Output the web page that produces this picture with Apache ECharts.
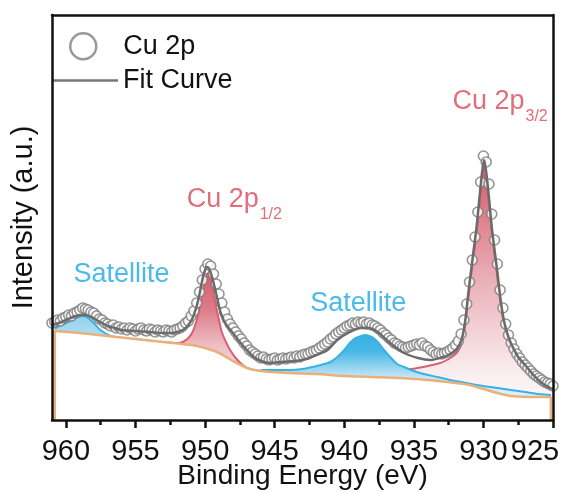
<!DOCTYPE html>
<html>
  <head>
    <meta charset="utf-8" />
    <title>Cu 2p XPS</title>
    <script src="https://cdn.jsdelivr.net/npm/echarts@6.0.0/dist/echarts.min.js"></script>
  </head>
  <body style="margin: 0; padding: 0; border: 0">
    <div id="main" style="width: 563px; height: 493px"></div>
    <script type="text/javascript">
      // measured points: 0.2 eV step starting at 961 eV
      var rawStart = 961;
      var rawStep = 0.2;
      var rawIntensity = [
        97, 98, 100, 99, 102, 103, 105, 104, 107, 108,
        110, 112, 111, 110, 108, 107, 104, 101, 100, 97,
        96, 94, 95, 92, 93, 91, 92, 90, 92, 91,
        89, 91, 92, 90, 89, 91, 90, 88, 90, 89,
        88, 90, 89, 88, 90, 91, 92, 94, 97, 99,
        104, 109, 117, 128, 140, 151, 156, 154, 146, 136,
        126, 117, 108, 101, 96, 92, 88, 84, 81, 77,
        74, 70, 68, 66, 64, 62, 63, 61, 60, 61,
        62, 60, 61, 62, 61, 62, 63, 62, 64, 63,
        65, 66, 66, 68, 69, 70, 72, 74, 76, 78,
        81, 83, 86, 88, 90, 92, 94, 95, 97, 96,
        98, 97, 98, 96, 97, 95, 94, 92, 90, 87,
        85, 82, 80, 77, 76, 74, 73, 72, 73, 74,
        75, 76, 75, 77, 74, 73, 70, 68, 66, 67,
        66, 67, 68, 70, 72, 75, 79, 86, 100, 116,
        138, 160, 183, 208, 238, 264, 258, 236, 206, 180,
        156, 130, 112, 96, 85, 77, 71, 66, 62, 58,
        55, 52, 49, 46, 44, 42, 40, 38, 37, 36,
        34
      ];

      var fitEnergy = [961, 960.5, 960, 959.5, 959, 958.6, 958.2, 957.8, 957.4, 957, 956.5, 956, 955, 954, 953, 952.4, 952, 951.6, 951.2, 950.9, 950.6, 950.4, 950.2, 950, 949.85, 949.7, 949.5, 949.3, 949.1, 948.9, 948.6, 948.3, 948, 947.5, 947, 946.5, 946, 945.3, 944.5, 943, 942, 941.2, 940.5, 939.6, 938.8, 938.3, 937.6, 936.7, 935.7, 934.7, 933.8, 932.9, 932.4, 932, 931.7, 931.5, 931.3, 931.1, 930.9, 930.7, 930.5, 930.3, 930.1, 929.95, 929.8, 929.6, 929.4, 929.2, 929, 928.8, 928.6, 928.4, 928.2, 928, 927.5, 927, 926.4, 925.8, 925.2, 925];
      var fitValue = [95, 97, 100, 103, 105, 105, 103, 100, 97, 94, 92, 90, 89, 88, 87, 87, 88, 90, 95, 102, 114, 126, 140, 150, 153, 151, 143, 132, 120, 108, 98, 92, 87, 78, 70, 63, 59, 57, 58, 60, 65, 70, 80, 88, 92, 92, 88, 77, 67, 62, 60, 63, 66, 70, 76, 84, 100, 125, 148, 170, 192, 220, 247, 260, 248, 222, 193, 170, 148, 124, 105, 92, 83, 76, 63, 55, 45, 37, 32, 31];

      var p32Energy = [940, 938, 936.5, 935.2, 934, 933.1, 932.5, 932, 931.7, 931.5, 931.3, 931.1, 930.9, 930.7, 930.5, 930.3, 930.1, 929.95, 929.8, 929.6, 929.4, 929.2, 929, 928.8, 928.6, 928.4, 928.2, 928, 927.5, 927, 926.4, 925.8, 925.15];
      var p32Value = [47, 48, 50, 51, 54, 57, 61, 66, 72, 80, 96, 120, 143, 165, 187, 214, 241, 254, 242, 216, 188, 165, 143, 120, 102, 89, 80, 73, 60, 52, 42, 35, 30];

      var p12Energy = [953, 952, 951.6, 951.2, 950.9, 950.6, 950.4, 950.2, 950, 949.8, 949.6, 949.4, 949.2, 949, 948.8, 948.5, 948.2, 947.8, 947.3, 946.8, 946, 945];
      var p12Value = [78, 77, 78, 82, 88, 100, 112, 126, 140, 147, 141, 128, 113, 100, 88, 78, 70, 62, 55, 51, 49, 48];

      var sat1Energy = [960.8, 960.5, 960, 959.5, 959.1, 958.8, 958.4, 958, 957.6, 957.2, 956.8, 956.3, 955.5, 954.5];
      var sat1Value = [91, 94, 97, 100, 103, 104, 102, 97, 91, 87, 84, 82, 81, 80];

      var sat2Energy = [946, 945.3, 944, 943, 941.7, 941, 940.5, 940, 939.6, 939.2, 938.8, 938.5, 938.2, 937.9, 937.6, 937.2, 936.7, 936.2, 935.7, 935.2, 934.3, 933.3, 932.4, 931.6, 930.5, 929.5, 928, 927, 926, 925.15];
      var sat2Value = [50, 50, 50, 51, 55, 58, 63, 70, 77, 82, 84, 85, 84, 82, 78, 71, 63, 56, 53, 50, 46, 43, 40, 38, 35, 33, 30, 28, 26, 25];

      var bgEnergy = [960.8, 960.8, 959, 957, 955, 953, 951, 950, 949, 948, 947, 946, 944, 942, 940, 938, 936, 934, 932, 931, 930, 929, 928, 926, 925.15, 925.15];
      var bgValue = [0, 89, 87, 84, 81, 78, 75, 72, 67, 59, 52, 49, 47, 46, 44, 43, 42, 40, 37, 35, 31, 27, 24, 23, 23, 0];

      var majorTicks = [925, 930, 935, 940, 945, 950, 955, 960];
      var minorTicks = [927.5, 932.5, 937.5, 942.5, 947.5, 952.5, 957.5];

      function pairs(xs, ys) {
        return xs.map(function (x, i) { return [x, ys[i]]; });
      }
      var rawData = rawIntensity.map(function (v, i) {
        return [+(rawStart - i * rawStep).toFixed(1), v];
      });

      var FONT = "Liberation Sans, Arial, sans-serif";
      var RED = "#D9606E";
      var BLUE = "#38B2E4";
      var RED_TXT = "#E06F7B";
      var BLUE_TXT = "#4ABAE8";

      function grad(stops) {
        return {
          type: "linear", x: 0, y: 0, x2: 0, y2: 1,
          colorStops: stops.map(function (s) { return { offset: s[0], color: s[1] }; }),
        };
      }
      function peakLabel(main, sub, color) {
        return {
          show: true,
          position: "inside",
          formatter: sub ? "{a|" + main + "}{b|" + sub + "}" : "{a|" + main + "}",
          rich: {
            a: { fontFamily: FONT, fontSize: 27, color: color, lineHeight: 30, verticalAlign: "top" },
            b: { fontFamily: FONT, fontSize: 16, color: color, lineHeight: 16, verticalAlign: "top", padding: [21, 0, 0, 1] },
          },
        };
      }
      function labelMark(coord, label) {
        return {
          symbol: "circle",
          symbolSize: 1,
          itemStyle: { color: "transparent" },
          silent: true,
          data: [{ coord: coord, label: label }],
        };
      }

      var myChart = echarts.init(document.getElementById("main"), null, { renderer: "canvas" });

      myChart.setOption({
        animation: false,
        grid: { left: 52, right: 10, top: 15, bottom: 73, outerBoundsMode: "none" },
        legend: [
          {
            data: ["Cu 2p"],
            left: 64,
            top: 27,
            icon: "circle",
            itemWidth: 70,
            itemHeight: 26,
            selectedMode: false,
            itemStyle: { color: "#fff", borderColor: "#808080", borderWidth: 2.5 },
            textStyle: { fontFamily: FONT, fontSize: 27, color: "#111" },
          },
          {
            data: ["Fit Curve"],
            left: 47,
            top: 62,
            icon: "rect",
            itemWidth: 66,
            itemHeight: 2.5,
            selectedMode: false,
            itemStyle: { color: "#777" },
            textStyle: { fontFamily: FONT, fontSize: 27, color: "#111", padding: [0, 0, 9, 0] },
          },
        ],
        xAxis: [
          {
            type: "value",
            min: 925,
            max: 961,
            inverse: true,
            position: "bottom",
            z: 10,
            name: "Binding Energy (eV)",
            nameLocation: "middle",
            nameGap: 42,
            nameMoveOverlap: false,
            nameTextStyle: { fontFamily: FONT, fontSize: 28, color: "#111" },
            axisLine: { show: true, lineStyle: { color: "#111", width: 2.5 } },
            axisTick: { show: true, length: 8, customValues: majorTicks, lineStyle: { color: "#111", width: 2.5 } },
            axisLabel: {
              margin: 17,
              customValues: majorTicks,
              showMinLabel: true,
              showMaxLabel: true,
              fontFamily: FONT,
              fontSize: 29,
              color: "#111",
              // the edge label sits shifted left, inside the canvas
              formatter: function (v) {
                return v === 925 ? "{r|" + v + "}" : "" + v;
              },
              rich: {
                r: { fontFamily: FONT, fontSize: 29, color: "#111", padding: [0, 36, 0, 0] },
              },
            },
            splitLine: { show: false },
          },
          {
            type: "value",
            min: 925,
            max: 961,
            inverse: true,
            position: "bottom",
            z: 10,
            axisLine: { show: false },
            axisTick: { show: true, length: 5, customValues: minorTicks, lineStyle: { color: "#111", width: 2.5 } },
            axisLabel: { show: false },
            splitLine: { show: false },
          },
          {
            type: "value",
            min: 925,
            max: 961,
            inverse: true,
            position: "top",
            z: 10,
            axisLine: { show: true, lineStyle: { color: "#111", width: 2.5 } },
            axisTick: { show: false },
            axisLabel: { show: false },
            splitLine: { show: false },
          },
        ],
        yAxis: [
          {
            type: "value",
            min: 0,
            max: 405,
            position: "left",
            z: 10,
            name: "Intensity (a.u.)",
            nameLocation: "middle",
            nameGap: 14,
            nameTextStyle: { fontFamily: FONT, fontSize: 29, color: "#111" },
            axisLine: { show: true, lineStyle: { color: "#111", width: 2.5 } },
            axisTick: { show: false },
            axisLabel: { show: false },
            splitLine: { show: false },
          },
          {
            type: "value",
            min: 0,
            max: 405,
            position: "right",
            z: 10,
            axisLine: { show: true, lineStyle: { color: "#111", width: 2.5 } },
            axisTick: { show: false },
            axisLabel: { show: false },
            splitLine: { show: false },
          },
        ],
        series: [
          {
            name: "Cu 2p3/2",
            type: "line",
            z: 1,
            data: pairs(p32Energy, p32Value),
            showSymbol: false,
            smooth: 0.3,
            lineStyle: { color: RED, width: 2 },
            areaStyle: { opacity: 1, color: grad([[0, "#D6596A"], [0.45, "#EAB0B8"], [0.82, "#FAEEF0"], [1, "#FFFFFF"]]) },
            markPoint: labelMark([928.8, 317], peakLabel("Cu 2p", "3/2", RED_TXT)),
          },
          {
            name: "Cu 2p1/2",
            type: "line",
            z: 1,
            data: pairs(p12Energy, p12Value),
            showSymbol: false,
            smooth: 0.3,
            lineStyle: { color: RED, width: 2 },
            areaStyle: { opacity: 1, color: grad([[0, "#D75D6B"], [0.25, "#DE7C88"], [0.5, "#EEC0C6"], [1, "#FFFFFF"]]) },
            markPoint: labelMark([947.9, 219], peakLabel("Cu 2p", "1/2", RED_TXT)),
          },
          {
            name: "Satellite 1",
            type: "line",
            z: 2,
            data: pairs(sat1Energy, sat1Value),
            showSymbol: false,
            smooth: 0.3,
            lineStyle: { color: BLUE, width: 2 },
            areaStyle: { opacity: 1, color: grad([[0, "#92D1EE"], [0.2, "#B0DEF2"], [1, "#FFFFFF"]]) },
            markPoint: labelMark([956.0, 144], peakLabel("Satellite", null, BLUE_TXT)),
          },
          {
            name: "Satellite 2",
            type: "line",
            z: 2,
            data: pairs(sat2Energy, sat2Value),
            showSymbol: false,
            smooth: 0.3,
            lineStyle: { color: BLUE, width: 2 },
            areaStyle: { opacity: 1, color: grad([[0, "#35B0E3"], [0.2, "#4BB8E7"], [0.5, "#C6E7F6"], [1, "#FFFFFF"]]) },
            markPoint: labelMark([939.0, 115], peakLabel("Satellite", null, BLUE_TXT)),
          },
          {
            name: "Background",
            type: "line",
            z: 3,
            data: pairs(bgEnergy, bgValue),
            showSymbol: false,
            smooth: 0.2,
            lineStyle: { color: "#E9B07C", width: 2.5 },
            areaStyle: { opacity: 1, color: "#FFFFFF" },
          },
          {
            name: "Cu 2p",
            type: "scatter",
            z: 4,
            data: rawData,
            symbol: "circle",
            symbolSize: 10,
            itemStyle: { color: "#fff", borderColor: "#7A7A7A", borderWidth: 1.6 },
          },
          {
            name: "Fit Curve",
            type: "line",
            z: 5,
            data: pairs(fitEnergy, fitValue),
            showSymbol: false,
            smooth: 0.3,
            lineStyle: { color: "#6B6B6B", width: 2.5 },
          },
        ],
      });
    </script>
  </body>
</html>
